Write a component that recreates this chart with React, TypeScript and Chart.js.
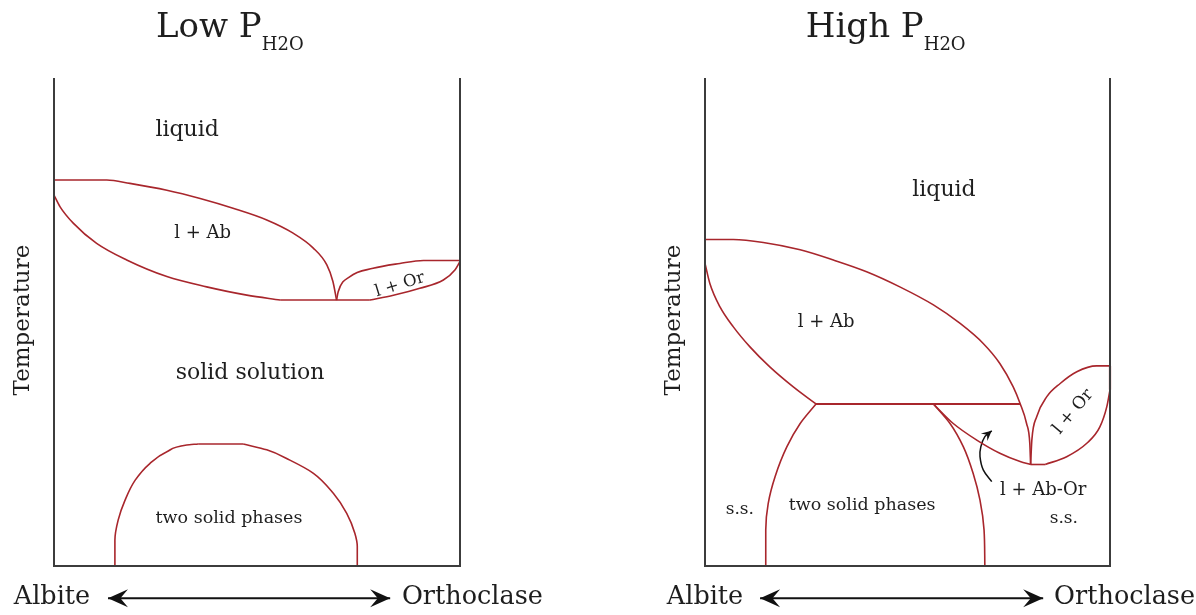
import { useEffect, useRef } from "react";
import { Chart, registerables } from "chart.js";

Chart.register(...registerables);

// ---------- Data (composition 0 = Albite, 100 = Orthoclase; temperature 0..100 relative) ----------
const BOX = [[0, 100], [0, 0], [100, 0], [100, 100]];

// Low P(H2O)
const LOW_AB_LIQUIDUS = [[0, 79.1], [13.0, 79.1], [18.7, 78.4], [27.8, 77.0], [36.0, 75.3], [44.1, 73.3], [52.4, 70.9], [58.9, 68.2], [63.8, 65.2], [67.2, 61.7], [68.7, 58.3], [69.6, 54.5]];
const LOW_AB_WALL = [[0, 79.1], [0, 76.0]];
const LOW_AB_SOLIDUS = [[0, 76.0], [1.5, 73.6], [4.8, 70.2], [10.5, 66.1], [17.9, 62.7], [27.8, 59.3], [37.6, 57.2], [47.5, 55.5], [55.7, 54.5]];
const LOW_EUTECTIC = [[55.7, 54.5], [77.8, 54.5]];
const LOW_OR_LIQUIDUS = [[69.6, 54.5], [70.0, 56.2], [72.9, 59.3], [78.6, 61.0], [85.2, 62.0], [91.0, 62.6], [100, 62.6]];
const LOW_OR_SOLIDUS = [[77.8, 54.5], [83.6, 55.5], [90.1, 56.9], [95.9, 58.6], [98.8, 60.7], [100, 62.4]];
const LOW_SOLVUS_LEFT = [[15.0, 0], [15.0, 5.3], [15.8, 9.4], [17.5, 13.5], [20.0, 17.6], [23.6, 21.0], [27.8, 23.4], [32.7, 24.8], [35.5, 25.0]];
const LOW_SOLVUS_TOP = [[35.5, 25.0], [46.6, 25.0]];
const LOW_SOLVUS_RIGHT = [[46.6, 25.0], [52.4, 23.8], [58.1, 21.7], [63.9, 19.0], [68.8, 14.9], [72.1, 10.8], [74.1, 6.7], [74.7, 4.0], [74.7, 0]];

// High P(H2O)
const HIGH_AB_LIQUIDUS = [[0, 66.9], [7.0, 66.9], [14.4, 66.3], [23.5, 64.8], [31.7, 62.7], [39.9, 60.3], [48.1, 57.2], [56.4, 53.5], [63.0, 49.7], [68.7, 45.6], [72.8, 41.5], [76.1, 36.7], [77.8, 33.3], [79.4, 29.2], [80.2, 25.1], [80.4, 20.8]];
const HIGH_AB_WALL = [[0, 66.9], [0, 62.0]];
const HIGH_AB_SOLIDUS = [[0, 62.0], [1.2, 57.9], [3.7, 53.1], [7.0, 49.0], [11.1, 44.9], [16.0, 40.8], [21.8, 36.7], [27.4, 33.2]];
const HIGH_TIE_LINE = [[27.4, 33.2], [77.8, 33.2]];
const HIGH_SOLVUS_LEFT = [[15.0, 0], [15.0, 7.4], [15.6, 12.8], [17.3, 18.3], [20.2, 24.4], [23.5, 29.2], [27.4, 33.2]];
const HIGH_SOLVUS_RIGHT = [[69.1, 0], [68.9, 7.4], [67.9, 13.5], [66.2, 19.0], [63.8, 24.4], [60.5, 29.2], [56.4, 33.2]];
const HIGH_AB_OR_SOLIDUS = [[56.4, 33.2], [61.3, 29.2], [67.1, 25.8], [72.8, 23.1], [77.8, 21.4], [80.4, 20.8]];
const HIGH_EUTECTIC = [[80.4, 20.8], [84.0, 20.8]];
const HIGH_OR_LIQUIDUS = [[80.4, 20.8], [80.7, 25.8], [81.9, 30.6], [84.4, 34.7], [87.7, 37.4], [91.8, 39.8], [96.7, 41.0], [100, 41.0]];
const HIGH_OR_WALL = [[100, 41.0], [100, 36.1]];
const HIGH_OR_SOLIDUS = [[84.0, 20.8], [89.3, 22.4], [94.2, 25.1], [97.5, 28.5], [99.2, 32.6], [100, 36.1]];
const HIGH_POINTER = [[70.8, 17.3], [68.7, 19.7], [67.9, 22.4], [68.1, 24.4], [69.1, 26.5], [70.8, 27.7]];

// Composition arrows under each panel
const LOW_COMP_ARROW = [[13.3, -6.6], [82.8, -6.6]];
const HIGH_COMP_ARROW = [[13.6, -6.6], [83.5, -6.6]];

// Text
const LOW_TITLE = ["Low P", "H2O"];
const HIGH_TITLE = ["High P", "H2O"];
const AXIS_TEXT = ["Temperature", "Albite", "Orthoclase"];
const LOW_TEXT = ["liquid", "l + Ab", "l + Or", "solid solution", "two solid phases"];
const LOW_TEXT_POS = [[32.8, 89.3], [36.6, 68.2], [85.2, 57.6], [48.3, 39.5], [43.1, 9.8]];
const HIGH_TEXT = ["liquid", "l + Ab", "l + Or", "l + Ab-Or", "s.s.", "s.s.", "two solid phases"];
const HIGH_TEXT_POS = [[59.0, 77.0], [29.9, 50.0], [90.9, 31.6], [83.5, 15.6], [8.6, 11.5], [88.6, 9.8], [38.8, 12.5]];

// ---------- Styling ----------
const RED = "#a8262c";
const FONT = '"DejaVu Serif", "Liberation Serif", serif';
const W = 598;
const H = 615;

type Label = { text: string; x: number; y: number; size: number; rot?: number; align?: CanvasTextAlign };

const pts = (a: number[][]) => a.map(([x, y]) => ({ x, y }));

// straight segment
const seg = (data: number[][], color = RED, width = 1.6) => ({
  data: pts(data),
  showLine: true,
  borderColor: color,
  backgroundColor: color,
  borderWidth: width,
  pointRadius: 0,
  tension: 0,
  clip: false as any,
  fill: false,
});

// smooth curve: monotone cubic through points monotonic along x (or along y if vertical)
const curve = (data: number[][], vertical = false, color = RED, width = 1.6) => ({
  ...seg(data, color, width),
  cubicInterpolationMode: "monotone" as const,
  tension: 0.4,
  ...(vertical ? { indexAxis: "y" as const } : {}),
});

// free-form bezier curve
const bez = (data: number[][], color = RED, width = 1.6, tension = 0.35) => ({
  ...seg(data, color, width),
  tension,
});

function drawHead(ctx: CanvasRenderingContext2D, tx: number, ty: number, fx: number, fy: number, len: number, half: number) {
  const a = Math.atan2(ty - fy, tx - fx);
  ctx.save();
  ctx.translate(tx, ty);
  ctx.rotate(a);
  ctx.beginPath();
  ctx.moveTo(0, 0);
  ctx.lineTo(-len, -half);
  ctx.lineTo(-len * 0.62, 0);
  ctx.lineTo(-len, half);
  ctx.closePath();
  ctx.fill();
  ctx.restore();
}

function annotPlugin(
  title: string[],
  titlePos: number[],
  labels: Label[],
  heads: { data: number[][]; both: boolean; len: number; half: number }[]
) {
  return {
    id: "annot",
    afterDatasetsDraw(chart: any) {
      const { ctx, scales } = chart;
      const sx = (v: number) => scales.x.getPixelForValue(v);
      const sy = (v: number) => scales.y.getPixelForValue(v);
      ctx.save();
      ctx.fillStyle = "#1e1e1e";
      // title with subscript
      ctx.textAlign = "left";
      ctx.textBaseline = "alphabetic";
      ctx.font = `34px ${FONT}`;
      const tx = sx(titlePos[0]);
      const ty = sy(titlePos[1]);
      ctx.fillText(title[0], tx, ty);
      const w = ctx.measureText(title[0]).width;
      ctx.font = `18px ${FONT}`;
      ctx.fillText(title[1], tx + w, ty + 13);
      // labels
      for (const l of labels) {
        ctx.save();
        ctx.translate(sx(l.x), sy(l.y));
        if (l.rot) ctx.rotate((l.rot * Math.PI) / 180);
        ctx.font = `${l.size}px ${FONT}`;
        ctx.textAlign = l.align ?? "center";
        ctx.textBaseline = "middle";
        ctx.fillText(l.text, 0, 0);
        ctx.restore();
      }
      // arrow heads
      ctx.fillStyle = "#111";
      for (const h of heads) {
        const d = h.data;
        const n = d.length;
        drawHead(ctx, sx(d[n - 1][0]), sy(d[n - 1][1]), sx(d[n - 2][0]), sy(d[n - 2][1]), h.len, h.half);
        if (h.both) drawHead(ctx, sx(d[0][0]), sy(d[0][1]), sx(d[1][0]), sy(d[1][1]), h.len, h.half);
      }
      ctx.restore();
    },
  };
}

function makeChart(
  canvas: HTMLCanvasElement,
  datasets: any[],
  padding: { left: number; right: number; top: number; bottom: number },
  plugin: any
) {
  return new Chart(canvas, {
    type: "scatter",
    data: { datasets },
    options: {
      animation: false,
      responsive: false,
      events: [],
      layout: { padding },
      scales: {
        x: { type: "linear", min: 0, max: 100, display: false },
        y: { type: "linear", min: 0, max: 100, display: false },
      },
      plugins: { legend: { display: false }, tooltip: { enabled: false } },
    },
    plugins: [plugin],
  } as any);
}

export default function App() {
  const leftRef = useRef<HTMLCanvasElement>(null);
  const rightRef = useRef<HTMLCanvasElement>(null);

  useEffect(() => {
    const lowLabels: Label[] = [
      ...LOW_TEXT.map((t, i) => ({
        text: t,
        x: LOW_TEXT_POS[i][0],
        y: LOW_TEXT_POS[i][1],
        size: [22, 18, 16.5, 22, 17.5][i],
        rot: i === 2 ? -17 : 0,
      })),
      { text: AXIS_TEXT[0], x: -7.6, y: 50.4, size: 23, rot: -90 },
      { text: AXIS_TEXT[1], x: -0.5, y: -6.4, size: 25.5 },
      { text: AXIS_TEXT[2], x: 85.7, y: -6.4, size: 25.5, align: "left" },
    ];
    const highLabels: Label[] = [
      ...HIGH_TEXT.map((t, i) => ({
        text: t,
        x: HIGH_TEXT_POS[i][0],
        y: HIGH_TEXT_POS[i][1],
        size: [22, 18, 17, 18, 17, 17, 17.5][i],
        rot: i === 2 ? -50 : 0,
      })),
      { text: AXIS_TEXT[0], x: -7.7, y: 50.4, size: 23, rot: -90 },
      { text: AXIS_TEXT[1], x: 0, y: -6.4, size: 25.5 },
      { text: AXIS_TEXT[2], x: 86.2, y: -6.4, size: 25.5, align: "left" },
    ];

    const left = makeChart(
      leftRef.current!,
      [
        seg(BOX, "#3c3c3c", 2),
        curve(LOW_AB_LIQUIDUS),
        seg(LOW_AB_WALL, RED, 1.8),
        curve(LOW_AB_SOLIDUS),
        seg(LOW_EUTECTIC),
        curve(LOW_OR_LIQUIDUS),
        curve(LOW_OR_SOLIDUS),
        curve(LOW_SOLVUS_LEFT, true),
        seg(LOW_SOLVUS_TOP),
        curve(LOW_SOLVUS_RIGHT, true),
        seg(LOW_COMP_ARROW, "#111", 2),
      ],
      { left: 54, right: W - 460, top: 78, bottom: H - 566 },
      annotPlugin(LOW_TITLE, [25.1, 108.4], lowLabels, [{ data: LOW_COMP_ARROW, both: true, len: 20, half: 9 }])
    );

    const right = makeChart(
      rightRef.current!,
      [
        seg(BOX, "#3c3c3c", 2),
        curve(HIGH_AB_LIQUIDUS),
        seg(HIGH_AB_WALL, RED, 1.8),
        curve(HIGH_AB_SOLIDUS),
        seg(HIGH_TIE_LINE, RED, 1.8),
        curve(HIGH_SOLVUS_LEFT, true),
        curve(HIGH_SOLVUS_RIGHT, true),
        curve(HIGH_AB_OR_SOLIDUS),
        seg(HIGH_EUTECTIC),
        curve(HIGH_OR_LIQUIDUS),
        seg(HIGH_OR_WALL, RED, 2.2),
        curve(HIGH_OR_SOLIDUS),
        bez(HIGH_POINTER, "#111", 1.5),
        seg(HIGH_COMP_ARROW, "#111", 2),
      ],
      { left: 705 - W, right: W - (1110 - W), top: 78, bottom: H - 566 },
      annotPlugin(HIGH_TITLE, [24.9, 108.4], highLabels, [
        { data: HIGH_COMP_ARROW, both: true, len: 20, half: 9 },
        { data: HIGH_POINTER, both: false, len: 10, half: 5 },
      ])
    );

    return () => {
      left.destroy();
      right.destroy();
    };
  }, []);

  return (
    <div style={{ position: "absolute", left: 0, top: 0, width: 1196, height: 615, background: "#fff", overflow: "hidden" }}>
      <canvas ref={leftRef} width={W} height={H} style={{ position: "absolute", left: 0, top: 0, width: W, height: H }} />
      <canvas ref={rightRef} width={W} height={H} style={{ position: "absolute", left: W, top: 0, width: W, height: H }} />
    </div>
  );
}
